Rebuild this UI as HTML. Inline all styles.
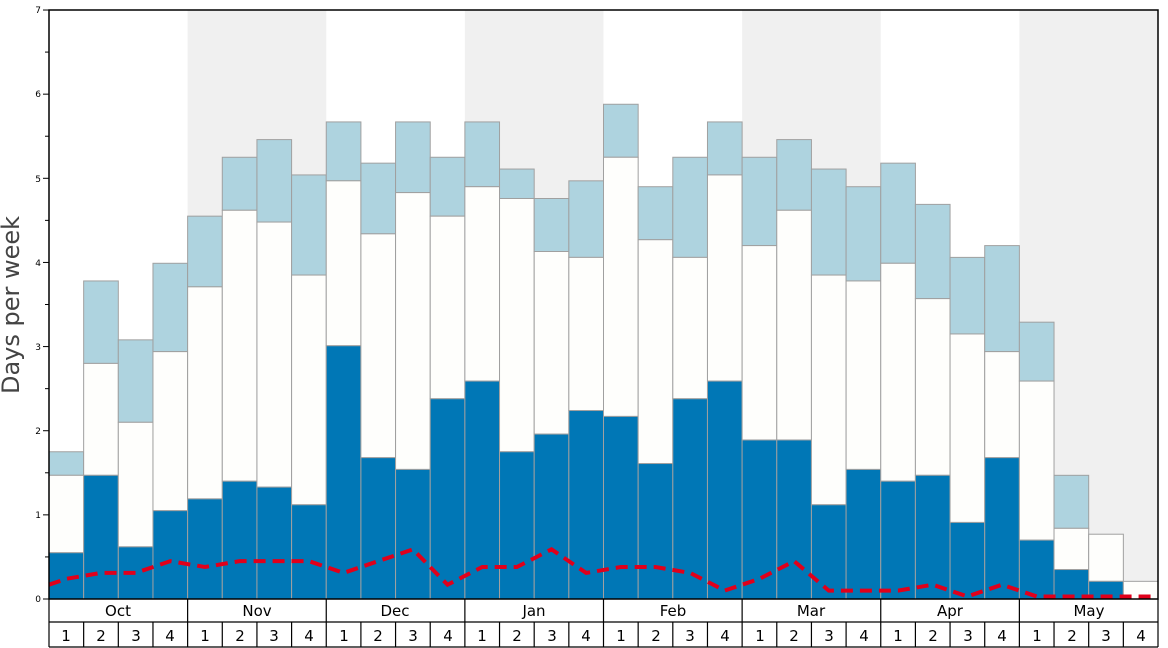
<!DOCTYPE html>
<html><head><meta charset="utf-8"><style>
html,body{margin:0;padding:0;background:#fff;}
svg{display:block;font-family:"DejaVu Sans","Liberation Sans",sans-serif;}
</style></head><body>
<svg id="s" width="1168" height="648" viewBox="0 0 1168 648" xmlns="http://www.w3.org/2000/svg">
<rect width="1168" height="648" fill="#fff"/>
<g id="bg"></g>
<g id="bars"></g>
<polyline id="red" fill="none" stroke="#e0001b" stroke-width="4" stroke-dasharray="12,7" points=""/>
<rect x="49" y="10" width="1109" height="589" fill="none" stroke="#000" stroke-width="1.5"/>
<g id="ticks" stroke="#000" stroke-width="1"></g>
<g font-size="9" text-anchor="end" fill="#000">
<text x="41" y="602">0</text><text x="41" y="518">1</text><text x="41" y="434">2</text><text x="41" y="350">3</text><text x="41" y="266">4</text><text x="41" y="182">5</text><text x="41" y="97">6</text><text x="41" y="13">7</text>
</g>
<text transform="translate(19,305) rotate(-90)" font-size="24" text-anchor="middle" fill="#444">Days per week</text>
<g id="axis" stroke="#000" stroke-width="1.2" fill="none"></g>
<g font-size="15" text-anchor="middle" fill="#000">
<text x="118" y="616">Oct</text><text x="257" y="616">Nov</text><text x="395" y="616">Dec</text><text x="534" y="616">Jan</text><text x="673" y="616">Feb</text><text x="811" y="616">Mar</text><text x="950" y="616">Apr</text><text x="1089" y="616">May</text>
</g>
<g font-size="15" text-anchor="middle" fill="#000">
<text x="66" y="641">1</text><text x="101" y="641">2</text><text x="136" y="641">3</text><text x="170" y="641">4</text>
<text x="205" y="641">1</text><text x="240" y="641">2</text><text x="274" y="641">3</text><text x="309" y="641">4</text>
<text x="344" y="641">1</text><text x="378" y="641">2</text><text x="413" y="641">3</text><text x="448" y="641">4</text>
<text x="482" y="641">1</text><text x="517" y="641">2</text><text x="552" y="641">3</text><text x="586" y="641">4</text>
<text x="621" y="641">1</text><text x="656" y="641">2</text><text x="690" y="641">3</text><text x="725" y="641">4</text>
<text x="760" y="641">1</text><text x="794" y="641">2</text><text x="829" y="641">3</text><text x="864" y="641">4</text>
<text x="898" y="641">1</text><text x="933" y="641">2</text><text x="968" y="641">3</text><text x="1002" y="641">4</text>
<text x="1037" y="641">1</text><text x="1072" y="641">2</text><text x="1106" y="641">3</text><text x="1141" y="641">4</text>
</g>
</svg>
<script>
var d=[[0.55,1.47,1.75],[1.47,2.8,3.78],[0.62,2.1,3.08],[1.05,2.94,3.99],[1.19,3.71,4.55],[1.4,4.62,5.25],[1.33,4.48,5.46],[1.12,3.85,5.04],[3.01,4.97,5.67],[1.68,4.34,5.18],[1.54,4.83,5.67],[2.38,4.55,5.25],[2.59,4.9,5.67],[1.75,4.76,5.11],[1.96,4.13,4.76],[2.24,4.06,4.97],[2.17,5.25,5.88],[1.61,4.27,4.9],[2.38,4.06,5.25],[2.59,5.04,5.67],[1.89,4.2,5.25],[1.89,4.62,5.46],[1.12,3.85,5.11],[1.54,3.78,4.9],[1.4,3.99,5.18],[1.47,3.57,4.69],[0.91,3.15,4.06],[1.68,2.94,4.2],[0.7,2.59,3.29],[0.35,0.84,1.47],[0.21,0.77,0.77],[0,0.21,0.21]];
var r=[0.24,0.31,0.31,0.45,0.38,0.45,0.45,0.45,0.31,0.45,0.59,0.17,0.38,0.38,0.59,0.31,0.38,0.38,0.31,0.1,0.24,0.45,0.1,0.1,0.1,0.17,0.03,0.17,0.03,0.03,0.03,0.03];
var X0=49,W=1109/32,Y0=599,K=84.14,NS="http://www.w3.org/2000/svg";
function el(p,t,a){var e=document.createElementNS(NS,t);for(var k in a)e.setAttribute(k,a[k]);document.getElementById(p).appendChild(e);}
[1,3,5,7].forEach(function(m){el("bg","rect",{x:X0+m*4*W,y:10,width:4*W,height:589,fill:"#f0f0f0"});});
d.forEach(function(v,i){var x=X0+i*W;
 if(v[2]>v[1])el("bars","rect",{x:x,y:Y0-v[2]*K,width:W,height:(v[2]-v[1])*K,fill:"#aed3df",stroke:"#a0a0a0","stroke-width":1});
 if(v[1]>v[0])el("bars","rect",{x:x,y:Y0-v[1]*K,width:W,height:(v[1]-v[0])*K,fill:"#fefefc",stroke:"#a0a0a0","stroke-width":1});
 if(v[0]>0)el("bars","rect",{x:x,y:Y0-v[0]*K,width:W,height:v[0]*K,fill:"#0077b6",stroke:"#a0a0a0","stroke-width":1});
});
var pts=[X0+","+(Y0-0.17*K)];
r.forEach(function(v,i){pts.push((X0+(i+0.5)*W)+","+(Y0-v*K));});
pts.push((X0+32*W)+","+(Y0-0.03*K));
document.getElementById("red").setAttribute("points",pts.join(" "));
for(var i=0;i<=14;i++){var y=Y0-i*0.5*K;el("ticks","line",{x1:i%2?45:43,x2:49,y1:y,y2:y});}
el("axis","line",{x1:X0,x2:1158,y1:622,y2:622});
el("axis","line",{x1:X0,x2:1158,y1:647,y2:647});
for(var i=0;i<=32;i++){var x=X0+i*W;el("axis","line",{x1:x,x2:x,y1:i%4==0?599:622,y2:647});}
</script>
</body></html>
